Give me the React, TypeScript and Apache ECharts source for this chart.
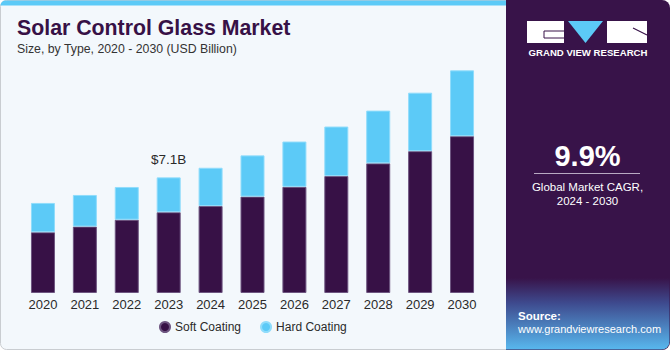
import React, { useEffect, useRef } from "react";
import * as echarts from "echarts";

const years = ["2020", "2021", "2022", "2023", "2024", "2025", "2026", "2027", "2028", "2029", "2030"];
const softCoating = [3.73, 4.08, 4.5, 4.96, 5.34, 5.92, 6.52, 7.18, 7.96, 8.71, 9.63];
const hardCoating = [1.8, 1.94, 2.01, 2.14, 2.35, 2.53, 2.78, 3.04, 3.24, 3.59, 4.04];
const highlightIndex = 3;
const highlightLabel = "$7.1B";
const cagrValue = "9.9%";

const FONT = "'Liberation Sans', Arial, sans-serif";

export default function App() {
  const ref = useRef<HTMLDivElement>(null);
  useEffect(() => {
    if (!ref.current) return;
    const chart = echarts.init(ref.current, undefined, { renderer: "svg" });
    const option: any = {
      animation: false,
      backgroundColor: "transparent",
      textStyle: { fontFamily: FONT },
      grid: { left: 22, right: 187, top: 65, bottom: 57, containLabel: false },
      xAxis: {
        type: "category",
        data: years,
        axisLine: { show: false },
        axisTick: { show: false },
        axisLabel: { color: "#2a2a2a", fontSize: 13, margin: 5, fontFamily: FONT },
      },
      yAxis: {
        type: "value",
        min: 0,
        max: 14,
        show: false,
        splitLine: { show: false },
      },
      legend: {
        left: 159,
        top: 321,
        padding: 0,
        icon: "circle",
        itemWidth: 10,
        itemHeight: 10,
        itemGap: 19,
        textStyle: { color: "#2a2a2a", fontSize: 12, fontFamily: FONT },
        data: ["Soft Coating", "Hard Coating"],
      },
      series: [
        {
          name: "Soft Coating",
          type: "bar",
          stack: "total",
          barWidth: 24,
          data: softCoating,
          itemStyle: { color: "#371146", borderColor: "#6d5580", borderWidth: 1 },
        },
        {
          name: "Hard Coating",
          type: "bar",
          stack: "total",
          barWidth: 24,
          data: hardCoating.map((v, i) =>
            i === highlightIndex
              ? {
                  value: v,
                  label: {
                    show: true,
                    position: "top",
                    distance: 11,
                    formatter: highlightLabel,
                    color: "#2a2a2a",
                    fontSize: 13.5,
                    fontFamily: FONT,
                  },
                }
              : v
          ),
          itemStyle: { color: "#5ccaf7", borderColor: "#8fdcfb", borderWidth: 1 },
        },
      ],
      graphic: [
        {
          type: "rect",
          z: -10,
          silent: true,
          shape: { x: 0.5, y: 0.5, width: 520, height: 349, r: 6 },
          style: { fill: "#f3f8fc", stroke: "#c9cdd1", lineWidth: 1 },
        },
        {
          type: "rect",
          z: -9,
          silent: true,
          shape: { x: 0.5, y: 0.5, width: 510, height: 5, r: [6, 0, 0, 0] },
          style: { fill: "#5ccaf7" },
        },
        {
          type: "rect",
          z: -8,
          silent: true,
          shape: { x: 506, y: 0, width: 164, height: 350, r: [0, 8, 8, 0] },
          style: { fill: "#381349" },
        },
        {
          type: "rect",
          z: -7,
          silent: true,
          shape: { x: 506, y: 278, width: 163.5, height: 71.5, r: [0, 0, 8, 0] },
          style: {
            fill: new echarts.graphic.LinearGradient(0, 0, 0, 1, [
              { offset: 0, color: "#381349" },
              { offset: 0.35, color: "#3e4a8e" },
              { offset: 1, color: "#58b8ee" },
            ]),
          },
        },
        {
          type: "rect",
          silent: true,
          shape: { x: 527, y: 21, width: 37, height: 22 },
          style: { fill: "#ffffff" },
        },
        {
          type: "polyline",
          silent: true,
          shape: { points: [[564, 31], [544, 31], [544, 38], [564, 38]] },
          style: { stroke: "#381349", lineWidth: 1, fill: null },
        },
        {
          type: "polygon",
          silent: true,
          shape: { points: [[568, 21], [603, 21], [585.5, 43]] },
          style: { fill: "#5ccaf7" },
        },
        {
          type: "rect",
          silent: true,
          shape: { x: 607, y: 21, width: 40, height: 22 },
          style: { fill: "#ffffff" },
        },
        {
          type: "polyline",
          silent: true,
          shape: { points: [[633, 28], [647, 35]] },
          style: { stroke: "#381349", lineWidth: 1.2, fill: null },
        },
        {
          type: "text",
          silent: true,
          x: 588,
          y: 52,
          style: {
            text: "GRAND VIEW RESEARCH",
            fill: "#ffffff",
            font: "bold 9.6px " + FONT,
            align: "center",
            verticalAlign: "middle",
          },
        },
        {
          type: "text",
          silent: true,
          x: 17,
          y: 28,
          style: {
            text: "Solar Control Glass Market",
            fill: "#371146",
            font: "900 21.3px " + FONT,
            verticalAlign: "middle",
          },
        },
        {
          type: "text",
          silent: true,
          x: 17,
          y: 49,
          style: {
            text: "Size, by Type, 2020 - 2030 (USD Billion)",
            fill: "#333333",
            font: "12.3px " + FONT,
            verticalAlign: "middle",
          },
        },
        {
          type: "text",
          silent: true,
          x: 587.5,
          y: 156,
          style: {
            text: cagrValue,
            fill: "#ffffff",
            font: "bold 29px " + FONT,
            align: "center",
            verticalAlign: "middle",
          },
        },
        {
          type: "line",
          silent: true,
          shape: { x1: 534, y1: 173.5, x2: 640, y2: 173.5 },
          style: { stroke: "#b8a9c2", lineWidth: 1 },
        },
        {
          type: "text",
          silent: true,
          x: 587.5,
          y: 187,
          style: {
            text: "Global Market CAGR,",
            fill: "#ffffff",
            font: "11.5px " + FONT,
            align: "center",
            verticalAlign: "middle",
          },
        },
        {
          type: "text",
          silent: true,
          x: 587.5,
          y: 201,
          style: {
            text: "2024 - 2030",
            fill: "#ffffff",
            font: "11.5px " + FONT,
            align: "center",
            verticalAlign: "middle",
          },
        },
        {
          type: "text",
          silent: true,
          x: 518,
          y: 316,
          style: {
            text: "Source:",
            fill: "#ffffff",
            font: "bold 11.5px " + FONT,
            verticalAlign: "middle",
          },
        },
        {
          type: "text",
          silent: true,
          x: 518,
          y: 329,
          style: {
            text: "www.grandviewresearch.com",
            fill: "#ffffff",
            font: "11px " + FONT,
            verticalAlign: "middle",
          },
        },
      ],
    };
    chart.setOption(option);
    return () => chart.dispose();
  }, []);
  return (
    <div
      ref={ref}
      style={{ position: "absolute", left: 0, top: 0, width: 670, height: 350, background: "#ffffff" }}
    />
  );
}
